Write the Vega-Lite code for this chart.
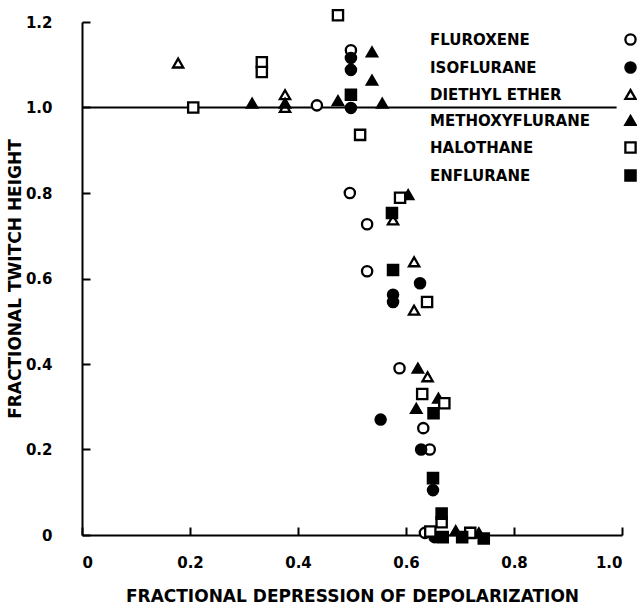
{
  "$schema": "https://vega.github.io/schema/vega-lite/v6.json",
  "width": 540,
  "height": 513,
  "autosize": {"type": "none"},
  "padding": {"left": 82, "top": 22, "right": 15, "bottom": 74},
  "background": "white",
  "config": {
    "view": {"stroke": null},
    "font": "DejaVu Sans",
    "axis": {
      "domainColor": "black",
      "domainWidth": 2,
      "tickColor": "black",
      "tickWidth": 2,
      "tickSize": -8,
      "grid": false,
      "labelFont": "DejaVu Sans",
      "labelFontWeight": "bold",
      "labelFontSize": 15,
      "labelColor": "black",
      "titleFont": "DejaVu Sans",
      "titleFontWeight": "bold",
      "titleFontSize": 17,
      "titleColor": "black"
    },
    "legend": {
      "title": null,
      "orient": "none",
      "legendX": 541,
      "legendY": 10,
      "labelFont": "DejaVu Sans",
      "labelFontWeight": "bold",
      "labelFontSize": 15,
      "labelColor": "black",
      "labelAlign": "left",
      "labelOffset": -208,
      "symbolOffset": 0,
      "symbolSize": 105,
      "symbolStrokeWidth": 2.3,
      "rowPadding": 7,
      "labelLimit": 300
    }
  },
  "datasets": {
    "pts": [
      {"drug": "FLUROXENE", "x": 0.435, "y": 1.005},
      {"drug": "FLUROXENE", "x": 0.498, "y": 1.134},
      {"drug": "FLUROXENE", "x": 0.496, "y": 0.80},
      {"drug": "FLUROXENE", "x": 0.528, "y": 0.727},
      {"drug": "FLUROXENE", "x": 0.528, "y": 0.617},
      {"drug": "FLUROXENE", "x": 0.588, "y": 0.39},
      {"drug": "FLUROXENE", "x": 0.632, "y": 0.25},
      {"drug": "FLUROXENE", "x": 0.644, "y": 0.2},
      {"drug": "FLUROXENE", "x": 0.635, "y": 0.005},
      {"drug": "ISOFLURANE", "x": 0.498, "y": 1.116},
      {"drug": "ISOFLURANE", "x": 0.498, "y": 1.088},
      {"drug": "ISOFLURANE", "x": 0.498, "y": 0.999},
      {"drug": "ISOFLURANE", "x": 0.626, "y": 0.589},
      {"drug": "ISOFLURANE", "x": 0.576, "y": 0.562},
      {"drug": "ISOFLURANE", "x": 0.576, "y": 0.545},
      {"drug": "ISOFLURANE", "x": 0.553, "y": 0.27},
      {"drug": "ISOFLURANE", "x": 0.628, "y": 0.2},
      {"drug": "ISOFLURANE", "x": 0.65, "y": 0.105},
      {"drug": "ISOFLURANE", "x": 0.653, "y": -0.005},
      {"drug": "DIETHYL ETHER", "x": 0.178, "y": 1.104},
      {"drug": "DIETHYL ETHER", "x": 0.376, "y": 1.03},
      {"drug": "DIETHYL ETHER", "x": 0.376, "y": 1.0},
      {"drug": "DIETHYL ETHER", "x": 0.576, "y": 0.737},
      {"drug": "DIETHYL ETHER", "x": 0.615, "y": 0.639},
      {"drug": "DIETHYL ETHER", "x": 0.615, "y": 0.526},
      {"drug": "DIETHYL ETHER", "x": 0.64, "y": 0.37},
      {"drug": "DIETHYL ETHER", "x": 0.72, "y": 0.005},
      {"drug": "METHOXYFLURANE", "x": 0.315, "y": 1.01},
      {"drug": "METHOXYFLURANE", "x": 0.376, "y": 1.01},
      {"drug": "METHOXYFLURANE", "x": 0.474, "y": 1.016},
      {"drug": "METHOXYFLURANE", "x": 0.537, "y": 1.13},
      {"drug": "METHOXYFLURANE", "x": 0.537, "y": 1.064},
      {"drug": "METHOXYFLURANE", "x": 0.556, "y": 1.01},
      {"drug": "METHOXYFLURANE", "x": 0.604, "y": 0.796},
      {"drug": "METHOXYFLURANE", "x": 0.622, "y": 0.39},
      {"drug": "METHOXYFLURANE", "x": 0.619, "y": 0.296},
      {"drug": "METHOXYFLURANE", "x": 0.66, "y": 0.32},
      {"drug": "METHOXYFLURANE", "x": 0.692, "y": 0.01},
      {"drug": "METHOXYFLURANE", "x": 0.735, "y": 0.005},
      {"drug": "HALOTHANE", "x": 0.206, "y": 1.0},
      {"drug": "HALOTHANE", "x": 0.333, "y": 1.106},
      {"drug": "HALOTHANE", "x": 0.333, "y": 1.083},
      {"drug": "HALOTHANE", "x": 0.474, "y": 1.216},
      {"drug": "HALOTHANE", "x": 0.515, "y": 0.936},
      {"drug": "HALOTHANE", "x": 0.589, "y": 0.789},
      {"drug": "HALOTHANE", "x": 0.639, "y": 0.545},
      {"drug": "HALOTHANE", "x": 0.63, "y": 0.33},
      {"drug": "HALOTHANE", "x": 0.671, "y": 0.308},
      {"drug": "HALOTHANE", "x": 0.666, "y": 0.03},
      {"drug": "HALOTHANE", "x": 0.645, "y": 0.008},
      {"drug": "HALOTHANE", "x": 0.719, "y": 0.005},
      {"drug": "ENFLURANE", "x": 0.498, "y": 1.03},
      {"drug": "ENFLURANE", "x": 0.574, "y": 0.753},
      {"drug": "ENFLURANE", "x": 0.576, "y": 0.62},
      {"drug": "ENFLURANE", "x": 0.651, "y": 0.285},
      {"drug": "ENFLURANE", "x": 0.65, "y": 0.133},
      {"drug": "ENFLURANE", "x": 0.666, "y": 0.05},
      {"drug": "ENFLURANE", "x": 0.668, "y": -0.005},
      {"drug": "ENFLURANE", "x": 0.704, "y": -0.005},
      {"drug": "ENFLURANE", "x": 0.744, "y": -0.008}
    ],
    "ref": [{"x": 0, "x2": 0.99, "y": 1.0}]
  },
  "layer": [
    {
      "data": {"name": "ref"},
      "mark": {"type": "rule", "color": "black", "strokeWidth": 2},
      "encoding": {
        "x": {"field": "x", "type": "quantitative", "scale": {"domain": [0, 1]}},
        "x2": {"field": "x2"},
        "y": {"field": "y", "type": "quantitative", "scale": {"domain": [0, 1.2]}}
      }
    },
    {
      "data": {"name": "pts"},
      "mark": {"type": "point", "filled": true, "opacity": 1, "size": 105, "strokeWidth": 2.3},
      "encoding": {
        "x": {
          "field": "x", "type": "quantitative",
          "scale": {"domain": [0, 1], "nice": false, "zero": false},
          "axis": {
            "title": "FRACTIONAL DEPRESSION OF DEPOLARIZATION",
            "values": [0, 0.2, 0.4, 0.6, 0.8, 1.0],
            "labelExpr": "datum.value == 0 ? '0' : format(datum.value, '.1f')",
            "labelPadding": 28,
            "titlePadding": 18
          }
        },
        "y": {
          "field": "y", "type": "quantitative",
          "scale": {"domain": [0, 1.2], "nice": false, "zero": false},
          "axis": {
            "title": "FRACTIONAL TWITCH HEIGHT",
            "values": [0, 0.2, 0.4, 0.6, 0.8, 1.0, 1.2],
            "labelExpr": "datum.value == 0 ? '0' : format(datum.value, '.1f')",
            "labelPadding": 38,
            "titlePadding": 1
          }
        },
        "shape": {
          "field": "drug", "type": "nominal",
          "scale": {
            "domain": ["FLUROXENE", "ISOFLURANE", "DIETHYL ETHER", "METHOXYFLURANE", "HALOTHANE", "ENFLURANE"],
            "range": ["circle", "circle", "triangle-up", "triangle-up", "square", "square"]
          }
        },
        "fill": {
          "field": "drug", "type": "nominal",
          "scale": {
            "domain": ["FLUROXENE", "ISOFLURANE", "DIETHYL ETHER", "METHOXYFLURANE", "HALOTHANE", "ENFLURANE"],
            "range": ["white", "black", "white", "black", "white", "black"]
          }
        },
        "stroke": {
          "field": "drug", "type": "nominal",
          "scale": {
            "domain": ["FLUROXENE", "ISOFLURANE", "DIETHYL ETHER", "METHOXYFLURANE", "HALOTHANE", "ENFLURANE"],
            "range": ["black", "black", "black", "black", "black", "black"]
          }
        }
      }
    }
  ]
}
